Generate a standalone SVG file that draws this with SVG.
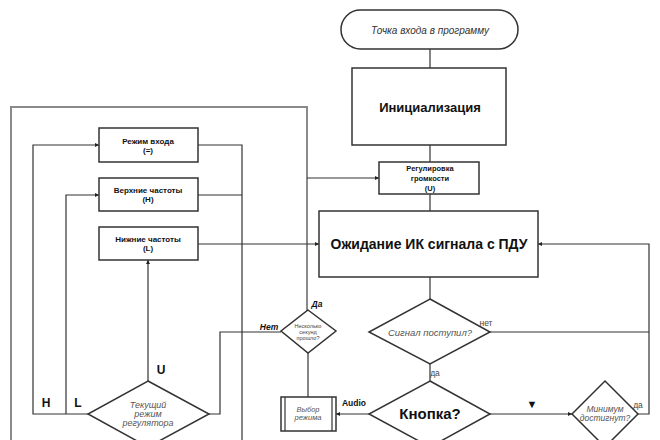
<svg xmlns="http://www.w3.org/2000/svg" width="660" height="440" viewBox="0 0 660 440">
<defs>
<marker id="ah" viewBox="0 0 6 6" refX="6" refY="3" markerWidth="4" markerHeight="4" orient="auto" markerUnits="userSpaceOnUse">
<path d="M0,0 L6,3 L0,6 z" fill="#222"/>
</marker>
<style>
.box{fill:#fff;stroke:#333;stroke-width:1.5}
.ln{fill:none;stroke:#333;stroke-width:1.2}
.gl{fill:none;stroke:#8a8a8a;stroke-width:2}
.t{font-family:"Liberation Sans",Arial,sans-serif;fill:#111;text-anchor:middle}
.b{font-weight:bold}
.i{font-style:italic;fill:#555}
</style>
</defs>
<rect width="660" height="440" fill="#fff"/>
<g id="connectors">
<polyline class="gl" points="11,440 11,107 307,107 307,310"/>
<line class="ln" x1="307" y1="178" x2="379" y2="178" marker-end="url(#ah)"/>
<line class="ln" x1="430" y1="49" x2="430" y2="68"/>
<line class="ln" x1="430" y1="145" x2="430" y2="162"/>
<line class="ln" x1="430" y1="194" x2="430" y2="211"/>
<line class="ln" x1="430" y1="277" x2="430" y2="299"/>
<line class="ln" x1="430" y1="364" x2="430" y2="381"/>
<polyline class="ln" points="198,145 242,145 242,440"/>
<line class="ln" x1="198" y1="195" x2="242" y2="195"/>
<line class="ln" x1="198" y1="244" x2="319" y2="244" marker-end="url(#ah)"/>
<polyline class="ln" points="88,414 33,414 33,145 99,145" marker-end="url(#ah)"/>
<polyline class="ln" points="66,414 66,195 99,195" marker-end="url(#ah)"/>
<line class="ln" x1="148" y1="381" x2="148" y2="260" marker-end="url(#ah)"/>
<polyline class="ln" points="209,414 220,414 220,332 281,332"/>
<line class="ln" x1="308" y1="353" x2="308" y2="397"/>
<line class="ln" x1="369" y1="414" x2="336" y2="414" marker-end="url(#ah)"/>
<line class="ln" x1="490" y1="414" x2="572" y2="414" marker-end="url(#ah)"/>
<line class="ln" x1="490" y1="332" x2="649" y2="332"/>
<polyline class="ln" points="638,414 649,414 649,244 538,244" marker-end="url(#ah)"/>
</g>
<g id="start">
<rect x="341" y="10" width="177" height="39" rx="19.5" class="box"/>
<text x="430" y="34" class="t i" font-size="10" style="fill:#333">Точка входа в программу</text>
</g>
<g id="init">
<rect x="352" y="68" width="154" height="77" class="box"/>
<text x="430" y="112" class="t b" font-size="13">Инициализация</text>
</g>
<g id="volume">
<rect x="379" y="162" width="100" height="32" class="box"/>
<text x="430" y="171" class="t b" font-size="7.5">Регулировка</text>
<text x="430" y="181" class="t b" font-size="7.5">громкости</text>
<text x="430" y="191" class="t b" font-size="7.5">(U)</text>
</g>
<g id="wait">
<rect x="319" y="211" width="219" height="66" class="box"/>
<text x="429" y="249" class="t b" font-size="14">Ожидание ИК сигнала с ПДУ</text>
</g>
<g id="mode-in">
<rect x="99" y="128" width="99" height="34" class="box"/>
<text x="148" y="144" class="t b" font-size="8">Режим входа</text>
<text x="148" y="153" class="t b" font-size="8">(=)</text>
</g>
<g id="high">
<rect x="99" y="178" width="99" height="33" class="box"/>
<text x="148" y="193" class="t b" font-size="8">Верхние частоты</text>
<text x="148" y="202" class="t b" font-size="8">(H)</text>
</g>
<g id="low">
<rect x="99" y="227" width="99" height="33" class="box"/>
<text x="148" y="242" class="t b" font-size="8">Нижние частоты</text>
<text x="148" y="251" class="t b" font-size="8">(L)</text>
</g>
<g id="signal">
<polygon points="430,299 490,332 430,364 369,332" class="box"/>
<text x="430" y="336" class="t i" font-size="9.5">Сигнал поступил?</text>
<text x="486" y="326" class="t" font-size="8.5" style="fill:#444">нет</text>
<text x="435" y="376" class="t" font-size="8.5" style="fill:#444">да</text>
</g>
<g id="button">
<polygon points="430,381 490,414 430,447 369,414" class="box"/>
<text x="430" y="419" class="t b" font-size="15">Кнопка?</text>
<text x="354" y="406" class="t b" font-size="8.5">Audio</text>
<text x="532" y="408" class="t" font-size="11">▼</text>
</g>
<g id="minimum">
<polygon points="605,381 638,414 605,447 572,414" class="box"/>
<text x="605" y="412" class="t i" font-size="8.5">Минимум</text>
<text x="605" y="421" class="t i" font-size="8.5">достигнут?</text>
<text x="638" y="408" class="t" font-size="8.5" style="fill:#444">да</text>
</g>
<g id="mode-select">
<rect x="281" y="397" width="55" height="34" class="box"/>
<line x1="285" y1="397" x2="285" y2="431" class="ln"/>
<line x1="332" y1="397" x2="332" y2="431" class="ln"/>
<text x="308" y="412" class="t i" font-size="7.5">Выбор</text>
<text x="308" y="420" class="t i" font-size="7.5">режима</text>
</g>
<g id="seconds">
<polygon points="308,310 336,331 308,353 281,331" class="box"/>
<text x="308" y="328" class="t" font-size="5.5" style="fill:#444">Несколько</text>
<text x="308" y="334" class="t" font-size="5.5" style="fill:#444">секунд</text>
<text x="308" y="340" class="t" font-size="5.5" style="fill:#444">прошло?</text>
<text x="317" y="307" class="t b i" font-size="8.5" style="fill:#111">Да</text>
<text x="269" y="330" class="t b i" font-size="8.5" style="fill:#111">Нет</text>
</g>
<g id="regulator">
<polygon points="148,381 209,414 148,447 88,414" class="box"/>
<text x="148" y="408" class="t i" font-size="9">Текущий</text>
<text x="148" y="417" class="t i" font-size="9">режим</text>
<text x="148" y="426" class="t i" font-size="9">регулятора</text>
<text x="161" y="374" class="t b" font-size="12">U</text>
<text x="46" y="407" class="t b" font-size="12">H</text>
<text x="78" y="407" class="t b" font-size="12">L</text>
</g>
</svg>
